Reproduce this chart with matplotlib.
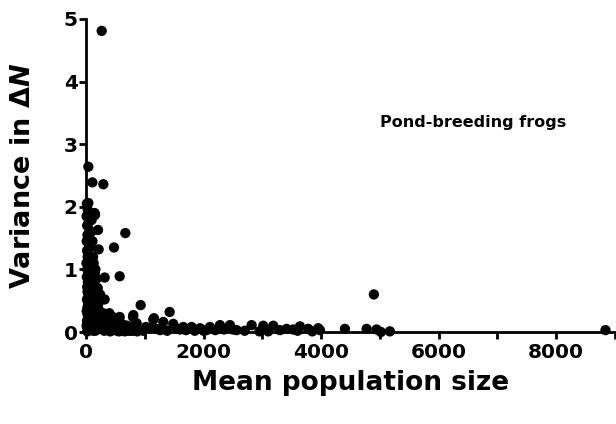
import matplotlib
matplotlib.use("Agg")
import matplotlib.pyplot as plt
from matplotlib.ticker import MultipleLocator, FuncFormatter
from matplotlib.transforms import IdentityTransform

plt.rcParams['font.family'] = ['DejaVu Sans']
plt.rcParams['font.weight'] = 'bold'
plt.rcParams['mathtext.fontset'] = 'custom'
plt.rcParams['mathtext.it'] = 'DejaVu Sans:italic:bold'
plt.rcParams['mathtext.rm'] = 'DejaVu Sans:bold'

# Scattered (outlying) points
out_x = [267, 40, 108, 295, 40, 153, 96, 204, 669, 476, 215, 573, 317, 317, 930, 1423,
         800, 573, 1156, 397, 147, 805, 862, 1145, 1315, 1485, 1088, 1655, 1797, 1939,
         2109, 2279, 2449, 2562, 2818, 1259, 970, 3016, 3186, 3044, 3413, 3640, 3526,
         3781, 3951, 3980, 4405, 4774, 4944, 4898, 5017, 5170, 8838, 2700, 2950, 3300,
         2000, 2200, 2350, 1700, 1550, 1020, 1200, 1380, 1600, 1850, 2050, 2500, 3100,
         3600, 3850]
out_y = [4.81, 2.64, 2.39, 2.36, 2.06, 1.87, 1.79, 1.63, 1.58, 1.35, 1.32, 0.89, 0.87,
         0.52, 0.43, 0.32, 0.24, 0.24, 0.22, 0.30, 1.90, 0.27, 0.14, 0.20, 0.16, 0.13,
         0.06, 0.08, 0.08, 0.06, 0.08, 0.11, 0.11, 0.03, 0.11, 0.03, 0.02, 0.10, 0.10,
         0.05, 0.05, 0.09, 0.04, 0.05, 0.06, 0.03, 0.05, 0.05, 0.04, 0.60, 0.00, 0.01,
         0.03, 0.02, 0.01, 0.03, 0.02, 0.03, 0.04, 0.03, 0.05, 0.08, 0.05, 0.02, 0.04,
         0.02, 0.03, 0.04, 0.01, 0.02, 0.01]

# Dense column near zero population size
col_x = [15, 30, 10, 45, 20, 60, 25, 35, 12, 50, 70, 18, 40, 28, 55, 8, 65, 22, 38, 80,
         14, 48, 32, 75, 20, 58, 26, 90, 42, 16, 68, 36, 100, 24, 52, 12, 85, 30, 44, 62,
         18, 110, 34, 56, 10, 78, 28, 46, 120, 22, 150, 180, 130, 200, 240, 170, 220, 260,
         120, 160, 140, 190, 100, 230, 280, 110, 210, 300, 90, 250]
col_y = [2.05, 1.95, 1.85, 1.75, 1.70, 1.62, 1.55, 1.50, 1.45, 1.40, 1.35, 1.30, 1.25,
         1.20, 1.15, 1.10, 1.05, 1.00, 0.95, 0.92, 0.88, 0.84, 0.80, 0.76, 0.72, 0.68,
         0.64, 0.60, 0.56, 0.52, 0.48, 0.45, 0.42, 0.39, 0.36, 0.33, 0.30, 0.27, 0.24,
         0.21, 0.18, 0.16, 0.14, 0.12, 0.10, 0.08, 0.06, 0.04, 0.02, 0.01, 0.95, 0.85,
         1.10, 0.70, 0.60, 0.40, 0.35, 0.30, 1.20, 1.00, 0.80, 0.50, 0.65, 0.20, 0.15,
         1.45, 0.45, 0.25, 1.60, 0.10]

# Low blob along the axis below 900
blob_x = [150, 200, 250, 300, 350, 400, 450, 500, 550, 600, 650, 700, 750, 800, 850,
          180, 230, 280, 330, 380, 430, 480, 530, 580, 630, 680, 730, 780, 130, 160,
          210, 260, 310, 360, 410, 460, 510, 560, 610, 660, 710, 760, 820, 870,
          190, 290, 390, 490, 590, 690, 340, 440, 540]
blob_y = [0.25, 0.20, 0.28, 0.15, 0.10, 0.22, 0.12, 0.05, 0.18, 0.08, 0.03, 0.10, 0.06,
          0.02, 0.04, 0.12, 0.08, 0.05, 0.20, 0.03, 0.15, 0.09, 0.02, 0.06, 0.12, 0.04,
          0.02, 0.08, 0.40, 0.02, 0.35, 0.10, 0.02, 0.06, 0.01, 0.03, 0.10, 0.01, 0.03,
          0.01, 0.05, 0.02, 0.10, 0.01, 0.10, 0.30, 0.08, 0.20, 0.12, 0.06, 0.04, 0.25, 0.14]

x_ticks = [0, 2000, 4000, 6000, 8000]
y_ticks = [0, 1, 2, 3, 4, 5]

fig = plt.figure(figsize=(6.16, 4.24), dpi=100)
ax = fig.add_axes([86/616, 1 - 332/424, (615 - 86)/616, (332 - 19)/424])

for xs, ys in [(col_x, col_y), (blob_x, blob_y), (out_x, out_y)]:
    ax.scatter(xs, ys, s=55, c='black', edgecolors='none', clip_on=False, zorder=3)

ax.set_xlim(0, 9000)
ax.set_ylim(0, 5)
ax.xaxis.set_major_locator(MultipleLocator(1000))
ax.xaxis.set_major_formatter(FuncFormatter(lambda v, p: f"{int(v)}" if int(v) in x_ticks else ""))
ax.set_yticks(y_ticks)

for side in ['top', 'right']:
    ax.spines[side].set_visible(False)
for side in ['left', 'bottom']:
    ax.spines[side].set_linewidth(2)

ax.tick_params(axis='both', direction='out', length=5, width=2, labelsize=14.5)
ax.tick_params(axis='x', pad=3)
ax.tick_params(axis='y', pad=1)
for lab in ax.get_xticklabels() + ax.get_yticklabels():
    lab.set_fontweight('bold')

ax.set_xlabel('Mean population size', fontsize=19, fontweight='bold', labelpad=6)
ax.set_ylabel('Variance in Δ$\\mathit{N}$', fontsize=19.5, fontweight='bold', labelpad=20)

ax.text(380, 424 - 123, 'Pond-breeding frogs', transform=IdentityTransform(),
        fontsize=11.5, fontweight='bold', va='center', ha='left')

fig.savefig('out.png', dpi=100, facecolor='white')
